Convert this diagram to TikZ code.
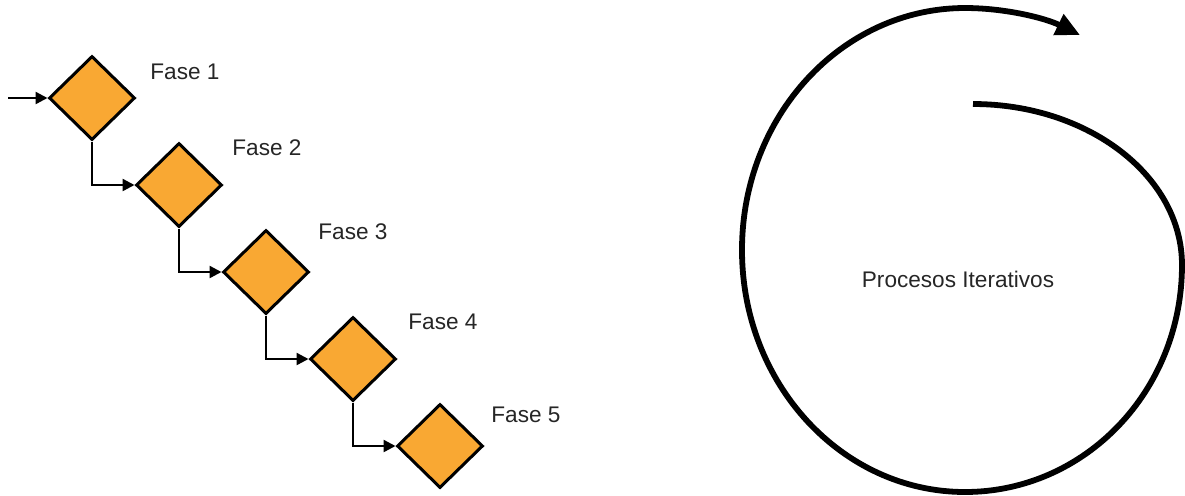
\documentclass[tikz,border=0pt]{standalone}
\usepackage{fontspec}
\setmainfont{Liberation Sans}
\usetikzlibrary{arrows.meta,shapes.geometric,positioning}

\definecolor{faseorange}{RGB}{249,168,51}

\tikzset{
  fase/.style={diamond, draw=black, line width=1.5pt, fill=faseorange,
    inner sep=0pt, minimum width=43pt, minimum height=42pt},
  faselabel/.style={anchor=west, inner sep=0pt, text=black!85,
    font=\fontsize{11.3pt}{13pt}\selectfont},
  flow/.style={line width=1.2pt, -{Triangle[length=6pt,width=6pt]}}
}

\begin{document}
\begin{tikzpicture}[x=0.5pt, y=-0.5pt]
  \useasboundingbox (0,0) rectangle (1185,495);

  % cascade of phases
  \node[fase](f1) at (92,98) {};
  \node[fase](f2) at (179,185) {};
  \node[fase](f3) at (266,272) {};
  \node[fase](f4) at (353,359) {};
  \node[fase](f5) at (440,446) {};

  \node[faselabel](l1) at (150,72) {Fase 1};
  \node[faselabel](l2) at (232,148) {Fase 2};
  \node[faselabel](l3) at (318,232) {Fase 3};
  \node[faselabel](l4) at (408,322) {Fase 4};
  \node[faselabel](l5) at (491,415) {Fase 5};

  \coordinate (in) at (8,98);
  \draw[flow](in)--(f1.west);
  \draw[flow](f1.south)|-(f2.west);
  \draw[flow](f2.south)|-(f3.west);
  \draw[flow](f3.south)|-(f4.west);
  \draw[flow](f4.south)|-(f5.west);

  % spiral
  \coordinate (sp0) at (973,104);
  \coordinate (sp1) at (1182,265);
  \coordinate (sp2) at (965,492);
  \coordinate (sp3) at (742,250);
  \coordinate (sp4) at (965,8);
  \coordinate (sp5) at (1080,35);
  \draw[line width=2.9pt, -{Triangle[length=12pt,width=11pt]}]
    (sp0) .. controls (1088,104) and (1182,176) .. (sp1)
          .. controls (1182,391) and (1085,492) .. (sp2)
          .. controls (842,492) and (742,384) .. (sp3)
          .. controls (742,116) and (842,8) .. (sp4)
          .. controls (1005,8) and (1045,18) .. (sp5);

  \node[faselabel, anchor=center](proc) at (958,279) {Procesos Iterativos};
\end{tikzpicture}
\end{document}
